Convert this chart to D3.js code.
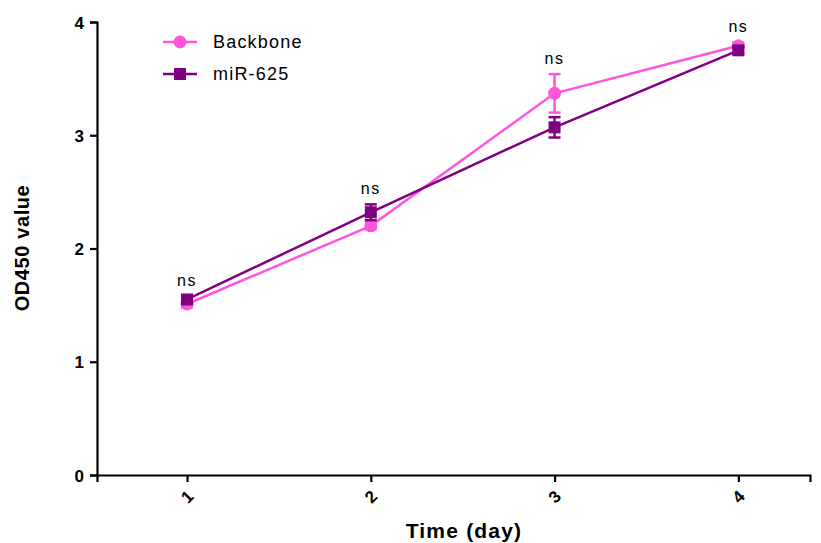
<!DOCTYPE html>
<html>
<head>
<meta charset="utf-8">
<script src="https://cdn.jsdelivr.net/npm/d3@7"></script>
<style>
  html, body { margin: 0; padding: 0; background: #fff; }
  svg { display: block; font-family: "Liberation Sans", Arial, sans-serif; }
</style>
</head>
<body>
<div id="chart"></div>
<script>
(function () {
  'use strict';

  // Data (OD450 over days)
  const days = [1, 2, 3, 4];
  const backboneMean = [1.51, 2.20, 3.37, 3.79];
  const backboneErr = [0.03, 0.03, 0.17, 0.03];
  const mir625Mean = [1.55, 2.32, 3.07, 3.75];
  const mir625Err = [0.03, 0.07, 0.09, 0.03];
  const sigLabels = ['ns', 'ns', 'ns', 'ns'];
  const yTicks = [0, 1, 2, 3, 4];
  const seriesNames = ['Backbone', 'miR-625'];

  const W = 821, H = 543;
  const COLORS = {
    backbone: '#ff55dd',
    mir: '#800080',
    axis: '#000'
  };

  const svg = d3.select('#chart').append('svg')
    .attr('width', W)
    .attr('height', H);

  const x = d3.scaleLinear().domain([0.51, 4.39]).range([97, 810]);
  const y = d3.scaleLinear().domain([0, 4]).range([475, 22]);

  // Axes
  const yAxis = svg.append('g')
    .attr('transform', `translate(${x(0.51)},0)`)
    .call(d3.axisLeft(y).tickValues(yTicks).tickSize(7).tickPadding(6).tickFormat(d3.format('d')));
  const xAxis = svg.append('g')
    .attr('transform', `translate(0,${y(0)})`)
    .call(d3.axisBottom(x).tickValues(days).tickSize(7).tickFormat(d3.format('d')));

  [yAxis, xAxis].forEach((a) => {
    a.select('.domain').attr('stroke', COLORS.axis).attr('stroke-width', 2.2);
    a.selectAll('.tick line').attr('stroke', COLORS.axis).attr('stroke-width', 2.2);
    a.selectAll('.tick text')
      .attr('fill', '#000')
      .style('font-size', '17px')
      .style('font-weight', 'bold')
      .style('font-family', '"Liberation Sans", Arial, sans-serif');
  });
  yAxis.selectAll('.tick text').attr('dy', '0.36em');

  // rotated x tick labels
  xAxis.selectAll('.tick text')
    .attr('y', 0)
    .attr('dy', null)
    .attr('text-anchor', 'middle')
    .attr('dominant-baseline', 'central')
    .attr('transform', 'translate(0,22) rotate(-45)');

  // Axis titles
  svg.append('text')
    .attr('x', 464)
    .attr('y', 538)
    .attr('text-anchor', 'middle')
    .style('font-size', '21px')
    .style('font-weight', 'bold')
    .style('letter-spacing', '1.2px')
    .text('Time (day)');

  svg.append('text')
    .attr('transform', `translate(29,${248}) rotate(-90)`)
    .attr('text-anchor', 'middle')
    .style('font-size', '20px')
    .style('font-weight', 'bold')
    .style('letter-spacing', '0.6px')
    .text('OD450 value');

  const line = d3.line().x((d) => x(d[0])).y((d) => y(d[1]));

  function drawSeries(means, errs, color, shape) {
    const g = svg.append('g');
    const pts = days.map((d, i) => [d, means[i], errs[i]]);

    g.append('path')
      .datum(pts)
      .attr('d', line)
      .attr('fill', 'none')
      .attr('stroke', color)
      .attr('stroke-width', 2.5);

    // error bars
    pts.forEach((p) => {
      const cx = x(p[0]);
      const y1 = y(p[1] + p[2]);
      const y2 = y(p[1] - p[2]);
      g.append('line')
        .attr('x1', cx).attr('x2', cx).attr('y1', y1).attr('y2', y2)
        .attr('stroke', color).attr('stroke-width', 2.5);
      [y1, y2].forEach((yy) => {
        g.append('line')
          .attr('x1', cx - 6).attr('x2', cx + 6).attr('y1', yy).attr('y2', yy)
          .attr('stroke', color).attr('stroke-width', 2.5);
      });
    });

    // markers
    pts.forEach((p) => {
      if (shape === 'circle') {
        g.append('circle')
          .attr('cx', x(p[0])).attr('cy', y(p[1])).attr('r', 6.5)
          .attr('fill', color);
      } else {
        g.append('rect')
          .attr('x', x(p[0]) - 6).attr('y', y(p[1]) - 6)
          .attr('width', 12).attr('height', 12)
          .attr('fill', color);
      }
    });
  }

  drawSeries(backboneMean, backboneErr, COLORS.backbone, 'circle');
  drawSeries(mir625Mean, mir625Err, COLORS.mir, 'square');

  // significance labels
  days.forEach((d, i) => {
    const top = Math.max(backboneMean[i] + backboneErr[i], mir625Mean[i] + mir625Err[i]);
    svg.append('text')
      .attr('x', x(d))
      .attr('y', y(top) - 10)
      .attr('text-anchor', 'middle')
      .style('font-size', '16px')
      .style('letter-spacing', '1.5px')
      .text(sigLabels[i]);
  });

  // Legend
  const legend = svg.append('g').attr('transform', 'translate(163,42)');
  seriesNames.forEach((name, i) => {
    const color = i === 0 ? COLORS.backbone : COLORS.mir;
    const row = legend.append('g').attr('transform', `translate(0,${i * 32})`);
    row.append('line')
      .attr('x1', 0).attr('x2', 34).attr('y1', 0).attr('y2', 0)
      .attr('stroke', color).attr('stroke-width', 2.5);
    if (i === 0) {
      row.append('circle').attr('cx', 17).attr('cy', 0).attr('r', 6.5).attr('fill', color);
    } else {
      row.append('rect').attr('x', 11).attr('y', -6).attr('width', 12).attr('height', 12).attr('fill', color);
    }
    row.append('text')
      .attr('x', 50)
      .attr('y', 0)
      .attr('dy', '0.35em')
      .style('font-size', '18px')
      .style('letter-spacing', '1.2px')
      .text(name);
  });
})();
</script>
</body>
</html>
